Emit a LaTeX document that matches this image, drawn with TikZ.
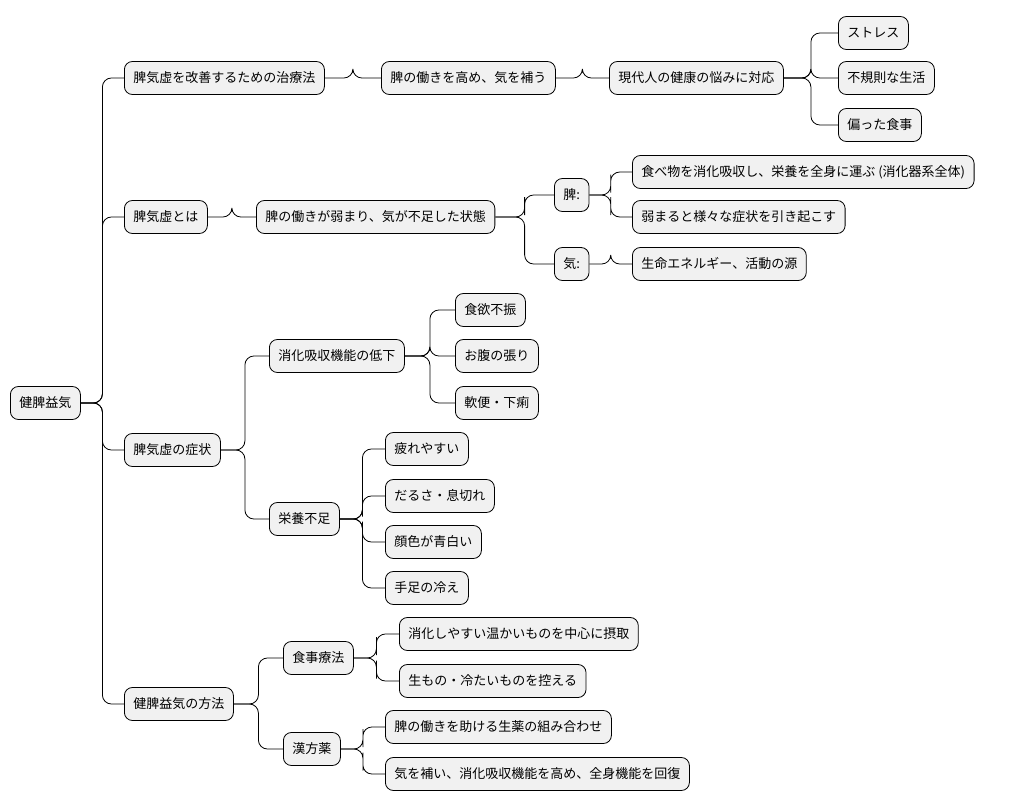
\documentclass[tikz,border=0pt]{standalone}
\usepackage{fontspec}
\setmainfont{Noto Sans CJK JP}
\usetikzlibrary{calc}
\definecolor{boxfill}{HTML}{F1F1F1}
\tikzset{
	topic/.style={draw=black, fill=boxfill, rounded corners=8pt, line width=0.8pt,
		anchor=west, minimum height=33pt, inner xsep=9pt,
		font=\fontsize{13}{15}\selectfont},
	branch/.style={draw=black, line width=0.8pt, rounded corners=9pt}
}
\newcommand{\conn}[2]{\draw[branch] (#1.east) -| ($(#1.east)!0.5!(#2.west)$) |- (#2.west);}

\begin{document}
\begin{tikzpicture}[x=1pt,y=-1pt]
		\useasboundingbox (0,0) rectangle (1015,808);

		%Root
		\node[topic] (root) at (10,403) {健脾益気};

		%Treatment
		\node[topic] (chiryo) at (124,78) {脾気虚を改善するための治療法};
		\node[topic] (takame) at (381,78) {脾の働きを高め、気を補う};
		\node[topic] (gendai) at (609,78) {現代人の健康の悩みに対応};
		\node[topic] (stress) at (838,33) {ストレス};
		\node[topic] (fukisoku) at (838,78) {不規則な生活};
		\node[topic] (katayo) at (838,125) {偏った食事};

		%Definition
		\node[topic] (towa) at (124,217) {脾気虚とは};
		\node[topic] (jotai) at (256,217) {脾の働きが弱まり、気が不足した状態};
		\node[topic] (hi) at (554,195) {脾:};
		\node[topic] (ki) at (554,264) {気:};
		\node[topic] (tabemono) at (632,172) {食べ物を消化吸収し、栄養を全身に運ぶ (消化器系全体)};
		\node[topic] (yowamaru) at (632,217) {弱まると様々な症状を引き起こす};
		\node[topic] (seimei) at (632,264) {生命エネルギー、活動の源};

		%Symptoms
		\node[topic] (shojo) at (124,450) {脾気虚の症状};
		\node[topic] (teika) at (269,356) {消化吸収機能の低下};
		\node[topic] (shokuyoku) at (455,310) {食欲不振};
		\node[topic] (onaka) at (455,356) {お腹の張り};
		\node[topic] (nanben) at (455,403) {軟便・下痢};
		\node[topic] (eiyo) at (269,519) {栄養不足};
		\node[topic] (tsukare) at (385,449) {疲れやすい};
		\node[topic] (darusa) at (385,496) {だるさ・息切れ};
		\node[topic] (kaoiro) at (385,542) {顔色が青白い};
		\node[topic] (teashi) at (385,588) {手足の冷え};

		%Methods
		\node[topic] (hoho) at (124,704) {健脾益気の方法};
		\node[topic] (shokuji) at (283,658) {食事療法};
		\node[topic] (shoka) at (399,634) {消化しやすい温かいものを中心に摂取};
		\node[topic] (namamono) at (399,681) {生もの・冷たいものを控える};
		\node[topic] (kampo) at (283,749) {漢方薬};
		\node[topic] (shoyaku) at (385,727) {脾の働きを助ける生薬の組み合わせ};
		\node[topic] (oginai) at (385,774) {気を補い、消化吸収機能を高め、全身機能を回復};

		\foreach \p/\c in {root/chiryo, chiryo/takame, takame/gendai, gendai/stress,
			gendai/fukisoku, gendai/katayo, root/towa, towa/jotai, jotai/hi, jotai/ki,
			hi/tabemono, hi/yowamaru, ki/seimei, root/shojo, shojo/teika, teika/shokuyoku,
			teika/onaka, teika/nanben, shojo/eiyo, eiyo/tsukare, eiyo/darusa, eiyo/kaoiro,
			eiyo/teashi, root/hoho, hoho/shokuji, shokuji/shoka, shokuji/namamono,
			hoho/kampo, kampo/shoyaku, kampo/oginai}{
			\conn{\p}{\c}
		}
	\end{tikzpicture}
\end{document}
